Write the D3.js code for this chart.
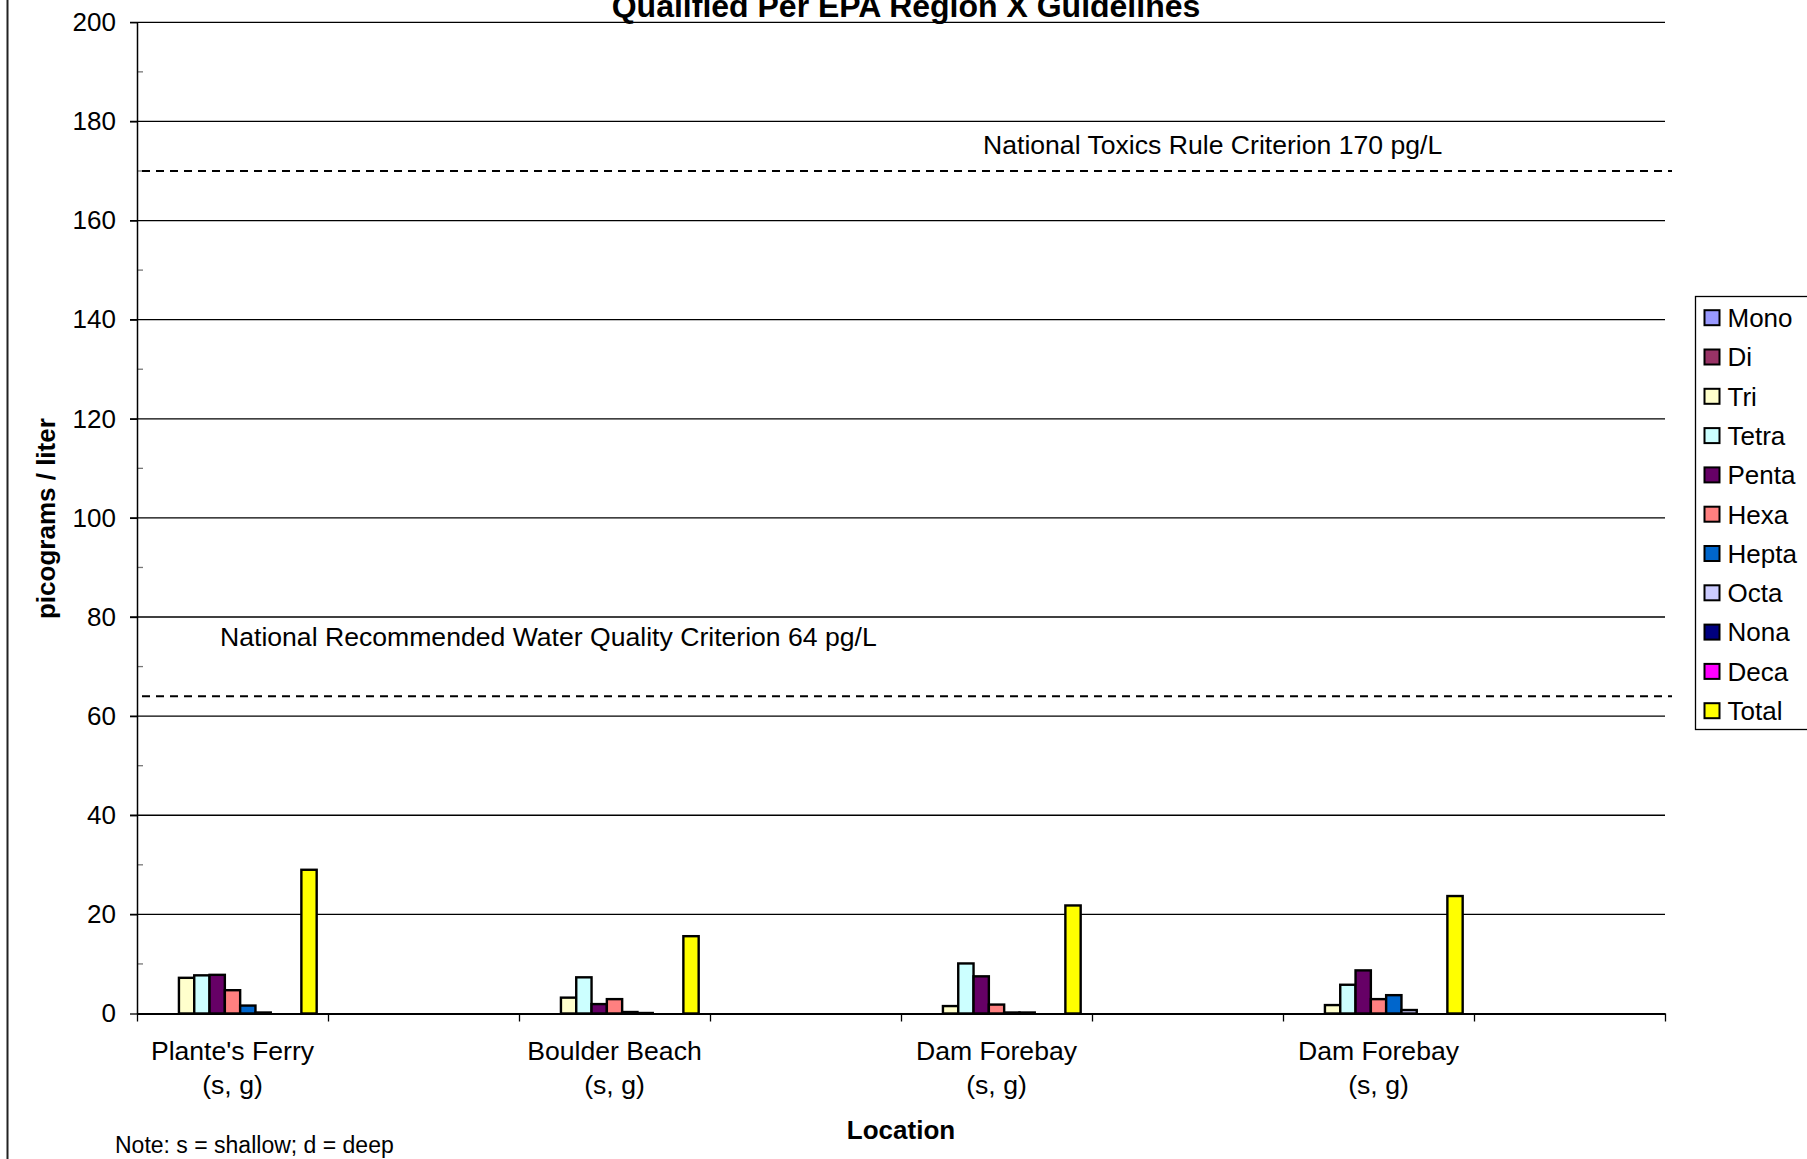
<!DOCTYPE html>
<html>
<head>
<meta charset="utf-8">
<script src="https://cdn.jsdelivr.net/npm/d3@7"></script>
<style>
  html, body { margin: 0; padding: 0; background: #fff; }
  svg { display: block; font-family: "Liberation Sans", Arial, sans-serif; }
</style>
</head>
<body>
<svg id="chart" width="1807" height="1159"></svg>
<script>
// Sampling locations (each occupies every other category slot on the axis)
const locations = ["Plante's Ferry", "Boulder Beach", "Dam Forebay", "Dam Forebay"];
const locationCodes = ["(s, g)", "(s, g)", "(s, g)", "(s, g)"];
const locationSlots = [0, 2, 4, 6];
const slotCount = 8;

// PCB homolog groups, picograms per liter
const series = ["Mono", "Di", "Tri", "Tetra", "Penta", "Hexa", "Hepta", "Octa", "Nona", "Deca", "Total"];
const mono  = [0, 0, 0, 0];
const di    = [0, 0, 0, 0];
const tri   = [7.2, 3.2, 1.5, 1.7];
const tetra = [7.7, 7.3, 10.1, 5.8];
const penta = [7.8, 1.9, 7.5, 8.7];
const hexa  = [4.7, 2.9, 1.8, 2.9];
const hepta = [1.6, 0.3, 0.2, 3.7];
const octa  = [0.2, 0.1, 0.2, 0.7];
const nona  = [0, 0, 0, 0];
const deca  = [0, 0, 0, 0];
const total = [29.0, 15.6, 21.8, 23.7];
const seriesValues = [mono, di, tri, tetra, penta, hexa, hepta, octa, nona, deca, total];
const seriesColors = ["#9999FF", "#993366", "#FFFFCC", "#CCFFFF", "#660066", "#FF8080",
                      "#0066CC", "#CCCCFF", "#000080", "#FF00FF", "#FFFF00"];

// Criterion reference lines
const criteria = [
  { value: 64,  label: "National Recommended Water Quality Criterion 64 pg/L" },
  { value: 170, label: "National Toxics Rule Criterion 170 pg/L" }
];
const yTicks = [0, 20, 40, 60, 80, 100, 120, 140, 160, 180, 200];
const yMinorTicks = [10, 30, 50, 70, 90, 110, 130, 150, 170, 190];

const svg = d3.select("#chart");
const FONT = 26.6;

const plotLeft = 137, plotRight = 1665, plotTop = 22.3, plotBottom = 1013.5;

const xSlot = d3.scaleBand().domain(d3.range(slotCount)).range([plotLeft, plotRight]).padding(0);
const xEdge = d3.scaleLinear().domain([0, slotCount]).range([plotLeft, plotRight]);
const xSeries = d3.scaleBand().domain(series).range([0, xSlot.bandwidth()])
  .paddingInner(0).paddingOuter(0.74);
const y = d3.scaleLinear().domain([0, 200]).range([plotBottom, plotTop]);

// Outer frame edge on the left
svg.append("line").attr("x1", 7.5).attr("x2", 7.5).attr("y1", 0).attr("y2", 1159)
  .attr("stroke", "#222").attr("stroke-width", 2);

// Title (its upper part runs past the top edge)
svg.append("text").attr("x", 906).attr("y", 17).attr("text-anchor", "middle")
  .attr("font-size", 32).attr("font-weight", "bold")
  .text("Qualified Per EPA Region X Guidelines");

// Horizontal gridlines (extend across the major tick)
svg.append("g").selectAll("line").data(yTicks.filter(d => d > 0)).join("line")
  .attr("x1", plotLeft - 7).attr("x2", plotRight)
  .attr("y1", d => y(d)).attr("y2", d => y(d))
  .attr("stroke", "#000").attr("stroke-width", 1.3);

// Minor ticks inside the axis
svg.append("g").selectAll("line").data(yMinorTicks).join("line")
  .attr("x1", plotLeft).attr("x2", plotLeft + 6)
  .attr("y1", d => y(d)).attr("y2", d => y(d))
  .attr("stroke", "#777").attr("stroke-width", 1.3);

// Y axis
const yAxis = svg.append("g").attr("transform", `translate(${plotLeft},0)`)
  .call(d3.axisLeft(y).tickValues(yTicks).tickSize(7).tickPadding(14).tickSizeOuter(0));
yAxis.select(".domain").attr("stroke", "#000").attr("stroke-width", 1.5);
yAxis.selectAll(".tick line").attr("stroke", "#000").attr("stroke-width", 1.3);
yAxis.selectAll(".tick text").attr("font-size", 26).attr("font-family", "Liberation Sans, Arial, sans-serif")
  .attr("fill", "#000");

// Bars
const barsG = svg.append("g");
series.forEach((name, si) => {
  const vals = seriesValues[si];
  barsG.append("g").selectAll("rect")
    .data(vals.map((v, li) => ({ v, li })).filter(d => d.v > 0))
    .join("rect")
    .attr("x", d => xSlot(locationSlots[d.li]) + xSeries(name))
    .attr("width", xSeries.bandwidth())
    .attr("y", d => y(d.v))
    .attr("height", d => y(0) - y(d.v))
    .attr("fill", seriesColors[si])
    .attr("stroke", "#000").attr("stroke-width", 2.4);
});

// X axis with ticks between category slots
const xAxis = svg.append("g").attr("transform", `translate(0,${plotBottom})`)
  .call(d3.axisBottom(xEdge).tickValues(d3.range(slotCount + 1)).tickFormat("").tickSize(8).tickSizeOuter(0));
xAxis.select(".domain").attr("stroke", "#000").attr("stroke-width", 1.8);
xAxis.selectAll(".tick line").attr("stroke", "#000").attr("stroke-width", 1.3);

// Category labels
const catG = svg.append("g").attr("font-size", FONT).attr("text-anchor", "middle");
locations.forEach((loc, i) => {
  const cx = xSlot(locationSlots[i]) + xSlot.bandwidth() / 2;
  catG.append("text").attr("x", cx).attr("y", 1060).text(loc);
  catG.append("text").attr("x", cx).attr("y", 1093.5).text(locationCodes[i]);
});

// Criterion lines and labels
svg.append("g").selectAll("line").data(criteria).join("line")
  .attr("x1", plotLeft + 5).attr("x2", plotRight + 7)
  .attr("y1", d => y(d.value)).attr("y2", d => y(d.value))
  .attr("stroke", "#000").attr("stroke-width", 2).attr("stroke-dasharray", "8,6");
const labelPos = [{ x: 220, y: 646 }, { x: 983, y: 154 }];
svg.append("g").selectAll("text").data(criteria).join("text")
  .attr("x", (d, i) => labelPos[i].x).attr("y", (d, i) => labelPos[i].y)
  .attr("font-size", FONT).text(d => d.label);

// Axis titles
svg.append("text").attr("transform", "translate(55,518.6) rotate(-90)")
  .attr("text-anchor", "middle").attr("font-size", 26).attr("font-weight", "bold")
  .text("picograms / liter");
svg.append("text").attr("x", 901).attr("y", 1139).attr("text-anchor", "middle")
  .attr("font-size", 26).attr("font-weight", "bold").text("Location");

// Footnote
svg.append("text").attr("x", 115).attr("y", 1153).attr("font-size", 23)
  .text("Note: s = shallow; d = deep");

// Legend
const lg = svg.append("g");
lg.append("rect").attr("x", 1695.5).attr("y", 296.5).attr("width", 200).attr("height", 433)
  .attr("fill", "#fff").attr("stroke", "#000").attr("stroke-width", 1.3);
const rowY = d3.scalePoint().domain(series).range([317.7, 710.7]);
series.forEach((name, si) => {
  const cy = rowY(name);
  lg.append("rect").attr("x", 1704.5).attr("y", cy - 7.5).attr("width", 15).attr("height", 15)
    .attr("fill", seriesColors[si]).attr("stroke", "#000").attr("stroke-width", 2);
  lg.append("text").attr("x", 1727.5).attr("y", cy + 9.3).attr("font-size", 26).text(name);
});
</script>
</body>
</html>
